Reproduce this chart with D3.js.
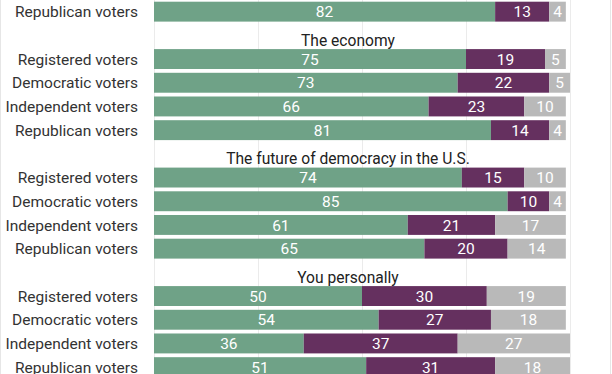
<!DOCTYPE html>
<html>
<head>
<meta charset="utf-8">
<script src="https://cdn.jsdelivr.net/npm/d3@7"></script>
<style>
	html, body { margin: 0; padding: 0; background: #fff; }
	svg { display: block; font-family: Roboto, "Noto Sans", sans-serif; }
</style>
</head>
<body>
<div id="chart"></div>
<script>
// Rows in drawing order: a title row (type 't') or a bar row (type 'b')
const rowTypes = ['b', 't', 'b', 'b', 'b', 'b', 't', 'b', 'b', 'b', 'b', 't', 'b', 'b', 'b', 'b'];
const rowLabels = [
	'Republican voters',
	'The economy',
	'Registered voters', 'Democratic voters', 'Independent voters', 'Republican voters',
	'The future of democracy in the U.S.',
	'Registered voters', 'Democratic voters', 'Independent voters', 'Republican voters',
	'You personally',
	'Registered voters', 'Democratic voters', 'Independent voters', 'Republican voters'
];
const greenValues  = [82, null, 75, 73, 66, 81, null, 74, 85, 61, 65, null, 50, 54, 36, 51];
const purpleValues = [13, null, 19, 22, 23, 14, null, 15, 10, 21, 20, null, 30, 27, 37, 31];
const greyValues   = [4,  null, 5,  5,  10, 4,  null, 10, 4,  17, 14, null, 19, 18, 27, 18];
const gridTicks = [0, 25, 50, 75, 100];

const seriesColors = ['#6fa287', '#65305f', '#b9b9b9'];

(function() {
	const width = 612, height = 374;
	const svg = d3.select('#chart').append('svg')
		.attr('width', width)
		.attr('height', height);

	const x = d3.scaleLinear().domain([0, 100]).range([154, 570]);
	const rowIds = rowLabels.map(function(d, i) { return i; });
	const y = d3.scaleBand().domain(rowIds).range([1.7, 377.1]).paddingInner(0.16).paddingOuter(0);

	// frame lines at the image edges
	svg.append('line').attr('x1', 0.5).attr('x2', 0.5).attr('y1', 0).attr('y2', height)
		.attr('stroke', '#e6e6e6');
	svg.append('line').attr('x1', 610.5).attr('x2', 610.5).attr('y1', 0).attr('y2', height)
		.attr('stroke', '#e6e6e6');

	// vertical gridlines behind the bars
	svg.append('g').selectAll('line')
		.data(gridTicks)
		.join('line')
		.attr('x1', function(d) { return Math.round(x(d)) + 0.5; })
		.attr('x2', function(d) { return Math.round(x(d)) + 0.5; })
		.attr('y1', 0)
		.attr('y2', height)
		.attr('stroke', '#ebebeb')
		.attr('stroke-width', 1);

	const barRows = rowIds.filter(function(i) { return rowTypes[i] === 'b'; });
	const titleRows = rowIds.filter(function(i) { return rowTypes[i] === 't'; });

	// build stacked segments
	const stackData = barRows.map(function(i) {
		return { row: i, green: greenValues[i], purple: purpleValues[i], grey: greyValues[i] };
	});
	const stack = d3.stack().keys(['green', 'purple', 'grey']);
	const layers = stack(stackData);

	const layerGroups = svg.append('g').selectAll('g')
		.data(layers)
		.join('g')
		.attr('fill', function(d, i) { return seriesColors[i]; });

	layerGroups.selectAll('rect')
		.data(function(d) { return d; })
		.join('rect')
		.attr('x', function(d) { return x(d[0]); })
		.attr('width', function(d) { return x(d[1]) - x(d[0]); })
		.attr('y', function(d) { return y(d.data.row); })
		.attr('height', y.bandwidth());

	// value labels
	layerGroups.selectAll('text')
		.data(function(d) { return d.map(function(s) { return { s: s, key: d.key }; }); })
		.join('text')
		.attr('x', function(d) { return (x(d.s[0]) + x(d.s[1])) / 2; })
		.attr('y', function(d) { return y(d.s.data.row) + y.bandwidth() / 2; })
		.attr('dy', '0.36em')
		.attr('text-anchor', 'middle')
		.style('font-size', '15.5px')
		.style('fill', '#fff')
		.text(function(d) { return d.s.data[d.key]; });

	// row labels
	svg.append('g').selectAll('text')
		.data(barRows)
		.join('text')
		.attr('x', 138)
		.attr('y', function(i) { return y(i) + y.bandwidth() / 2; })
		.attr('dy', '0.36em')
		.attr('text-anchor', 'end')
		.style('font-size', '15.5px')
		.style('fill', '#333')
		.text(function(i) { return rowLabels[i]; });

	// group titles
	svg.append('g').selectAll('text')
		.data(titleRows)
		.join('text')
		.attr('x', 348)
		.attr('y', function(i) { return y(i) + y.bandwidth() + 0.5; })
		.attr('text-anchor', 'middle')
		.style('font-size', '15.6px')
		.style('fill', '#222')
		.text(function(i) { return rowLabels[i]; });
})();
</script>
</body>
</html>
